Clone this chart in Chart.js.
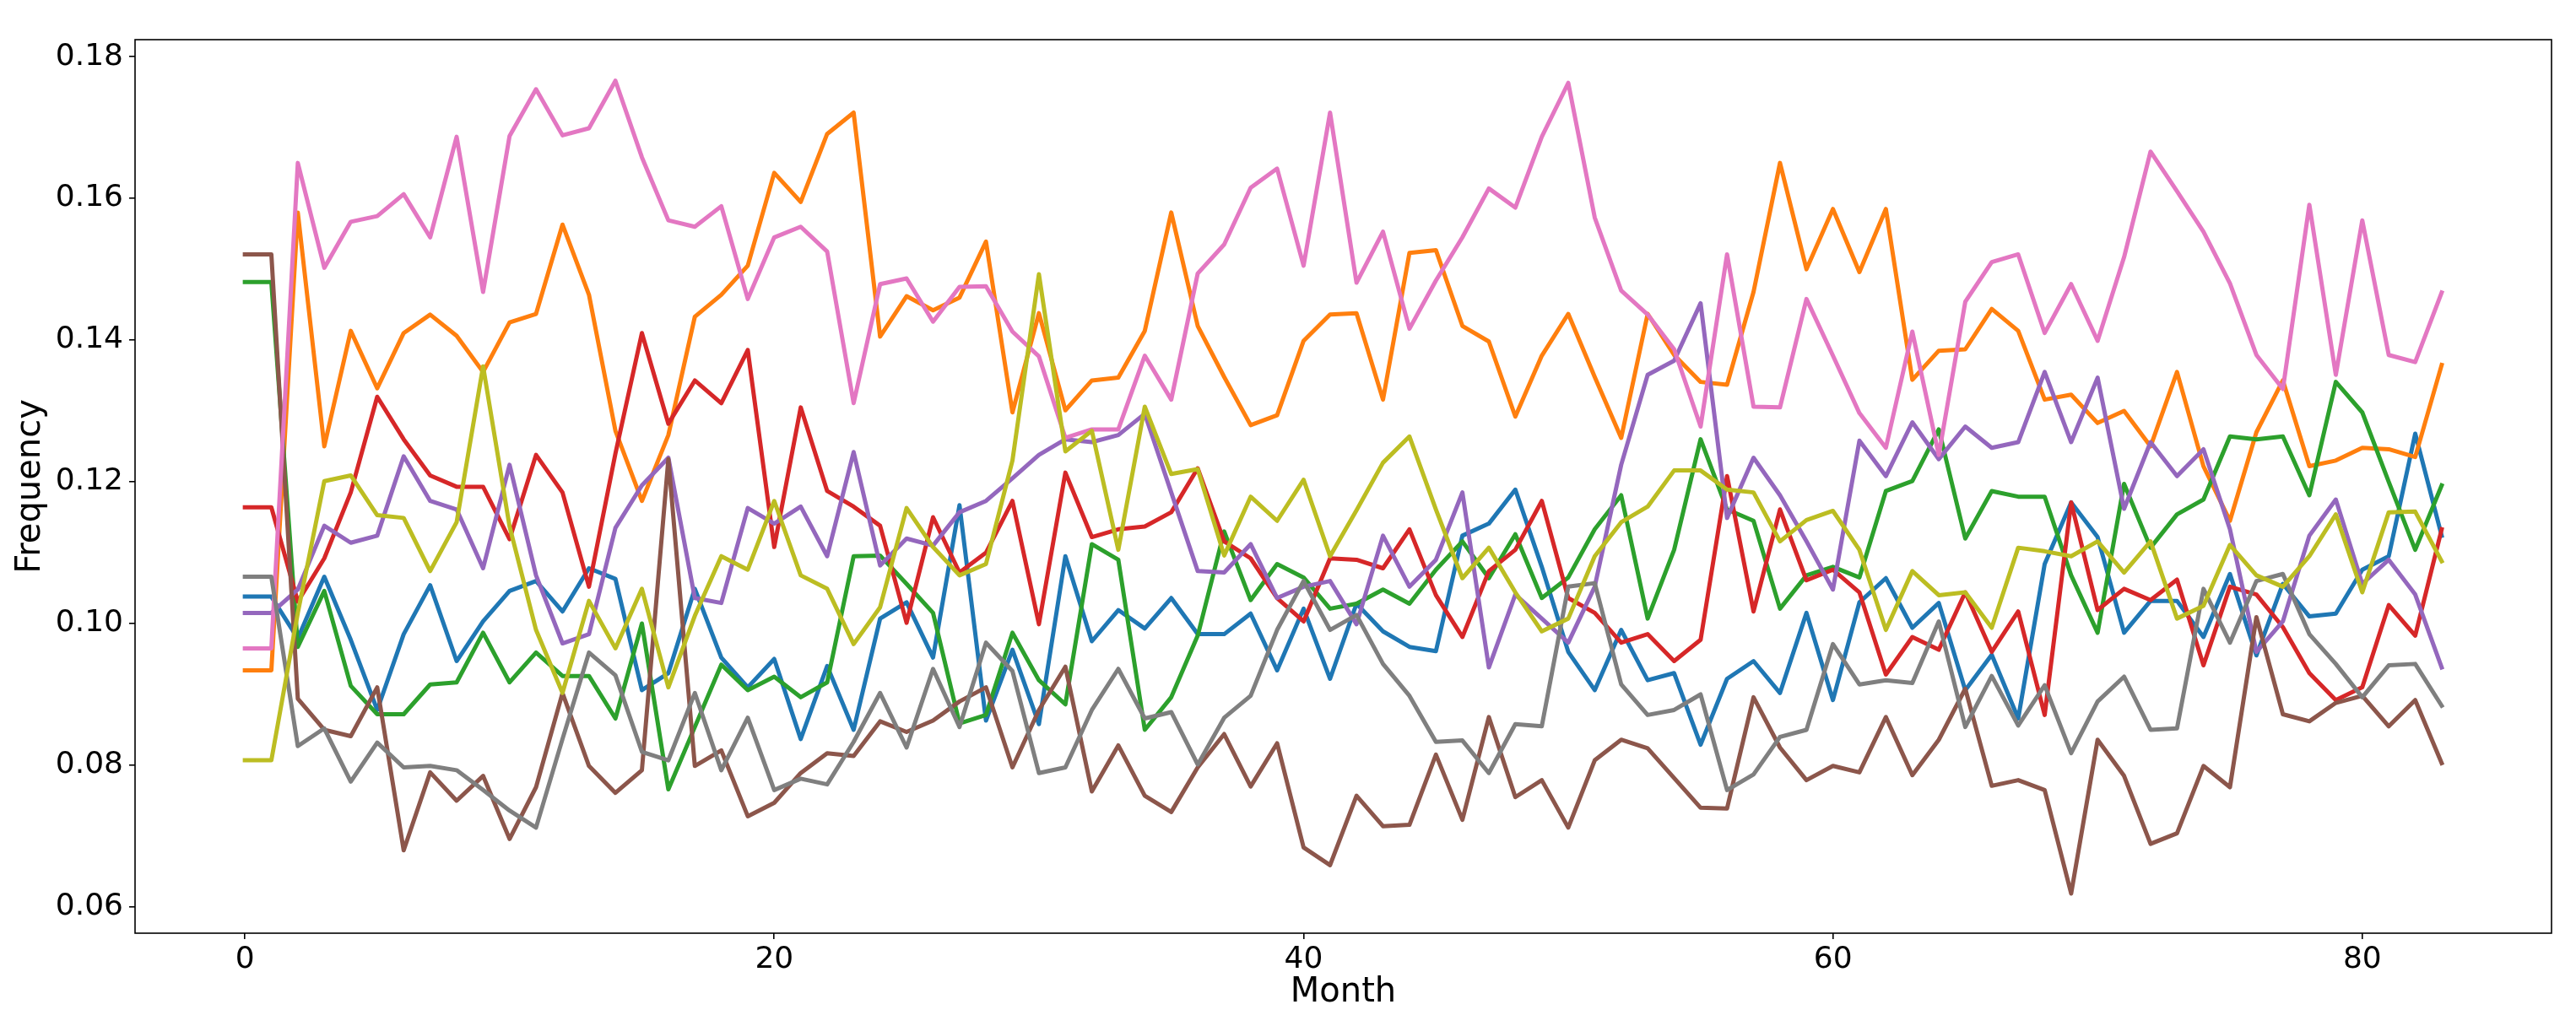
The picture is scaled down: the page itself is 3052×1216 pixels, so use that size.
<!DOCTYPE html>
<html>
<head>
<meta charset="utf-8">
<script src="https://cdn.jsdelivr.net/npm/chart.js@4.4.1/dist/chart.umd.min.js"></script>
<style>
html,body{margin:0;padding:0;background:#fff;}
#wrap{width:3052px;height:1216px;}
</style>
</head>
<body>
<div id="wrap"><canvas id="c" width="3052" height="1216"></canvas></div>
<script>
const months = Array.from({length: 84}, (_, i) => i);
const xTicks = [0, 20, 40, 60, 80];
const yTicks = [0.06, 0.08, 0.10, 0.12, 0.14, 0.16, 0.18];

const blue = [0.1038,0.1038,0.0979,0.1066,0.0977,0.0878,0.0985,0.1054,0.0947,0.1003,0.1046,0.1060,0.1017,0.1078,0.1063,
0.0906,0.0930,0.1049,0.0952,0.0910,0.0950,0.0837,0.0940,0.0850,0.1007,0.1030,0.0952,0.1167,0.0863,
0.0963,0.0858,0.1095,0.0975,0.1019,0.0993,0.1036,0.0985,0.0985,0.1014,0.0934,0.1021,0.0922,0.1028,
0.0989,0.0967,0.0961,0.1124,0.1141,0.1189,0.1080,0.0960,0.0906,0.0991,0.0920,0.0930,0.0829,0.0922,
0.0947,0.0902,0.1015,0.0892,0.1030,0.1064,0.0994,0.1029,0.0906,0.0956,0.0866,0.1084,0.1171,0.1122,
0.0987,0.1032,0.1032,0.0981,0.1070,0.0955,0.1056,0.1010,0.1014,0.1076,0.1095,0.1268,0.1124];

const orange = [0.0934,0.0934,0.1580,0.1250,0.1413,0.1332,0.1410,0.1436,0.1406,0.1355,0.1425,0.1437,0.1563,0.1464,0.1272,
0.1173,0.1266,0.1433,0.1464,0.1505,0.1636,0.1595,0.1691,0.1721,0.1405,0.1462,0.1442,0.1460,0.1539,
0.1298,0.1438,0.1301,0.1343,0.1347,0.1413,0.1580,0.1420,0.1348,0.1280,0.1294,0.1399,0.1436,0.1438,
0.1316,0.1523,0.1527,0.1420,0.1398,0.1292,0.1378,0.1437,0.1348,0.1262,0.1437,0.1379,0.1341,0.1337,
0.1468,0.1650,0.1500,0.1585,0.1496,0.1585,0.1344,0.1385,0.1387,0.1444,0.1413,0.1316,0.1323,0.1283,
0.1300,0.1250,0.1355,0.1222,0.1145,0.1270,0.1343,0.1222,0.1230,0.1248,0.1246,0.1235,0.1365];

const green = [0.1482,0.1482,0.0967,0.1046,0.0912,0.0872,0.0872,0.0914,0.0917,0.0987,0.0917,0.0959,0.0926,0.0926,0.0866,
0.1000,0.0766,0.0854,0.0942,0.0906,0.0925,0.0896,0.0917,0.1095,0.1096,0.1056,0.1015,0.0859,0.0871,
0.0987,0.0920,0.0886,0.1112,0.1090,0.0850,0.0896,0.0983,0.1130,0.1033,0.1084,0.1065,0.1021,0.1028,
0.1048,0.1028,0.1076,0.1116,0.1064,0.1126,0.1036,0.1065,0.1133,0.1181,0.1007,0.1104,0.1260,0.1161,
0.1145,0.1021,0.1068,0.1080,0.1065,0.1187,0.1201,0.1274,0.1120,0.1187,0.1179,0.1179,0.1068,0.0987,
0.1197,0.1107,0.1154,0.1175,0.1264,0.1260,0.1264,0.1181,0.1341,0.1298,0.1200,0.1104,0.1195];

const red = [0.1164,0.1164,0.1031,0.1092,0.1185,0.1320,0.1260,0.1209,0.1193,0.1193,0.1119,0.1238,0.1185,0.1052,0.1240,
0.1410,0.1282,0.1343,0.1311,0.1386,0.1108,0.1305,0.1187,0.1165,0.1138,0.1001,0.1150,0.1072,0.1100,
0.1173,0.0999,0.1213,0.1122,0.1133,0.1137,0.1157,0.1219,0.1116,0.1092,0.1036,0.1003,0.1092,0.1090,
0.1078,0.1133,0.1040,0.0981,0.1074,0.1104,0.1173,0.1036,0.1015,0.0973,0.0985,0.0947,0.0977,0.1208,
0.1017,0.1161,0.1061,0.1076,0.1044,0.0928,0.0981,0.0963,0.1044,0.0960,0.1017,0.0871,0.1171,0.1019,
0.1049,0.1033,0.1062,0.0941,0.1052,0.1041,0.0995,0.0930,0.0892,0.0910,0.1026,0.0983,0.1133];

const purple = [0.1015,0.1015,0.1048,0.1138,0.1114,0.1124,0.1236,0.1173,0.1161,0.1078,0.1224,0.1068,0.0972,0.0985,0.1135,
0.1195,0.1234,0.1036,0.1029,0.1163,0.1141,0.1165,0.1095,0.1242,0.1082,0.1120,0.1110,0.1157,0.1173,
0.1205,0.1238,0.1260,0.1256,0.1266,0.1296,0.1185,0.1074,0.1072,0.1112,0.1036,0.1052,0.1060,0.0999,
0.1124,0.1052,0.1090,0.1185,0.0938,0.1041,0.1007,0.0973,0.1052,0.1224,0.1351,0.1371,0.1452,0.1149,
0.1234,0.1181,0.1116,0.1048,0.1258,0.1208,0.1284,0.1232,0.1278,0.1248,0.1256,0.1355,0.1256,0.1347,
0.1162,0.1256,0.1208,0.1246,0.1133,0.0960,0.1003,0.1124,0.1175,0.1056,0.1090,0.1041,0.0938];

const brown = [0.1521,0.1521,0.0894,0.0850,0.0841,0.0910,0.0680,0.0790,0.0750,0.0785,0.0696,0.0769,0.0902,0.0799,0.0761,
0.0793,0.1232,0.0799,0.0821,0.0728,0.0747,0.0789,0.0817,0.0813,0.0862,0.0847,0.0863,0.0890,0.0910,
0.0797,0.0878,0.0939,0.0763,0.0828,0.0757,0.0734,0.0797,0.0844,0.0770,0.0831,0.0684,0.0659,0.0757,
0.0714,0.0716,0.0815,0.0723,0.0868,0.0755,0.0779,0.0712,0.0807,0.0836,0.0824,0.0782,0.0740,0.0739,
0.0896,0.0825,0.0779,0.0799,0.0790,0.0868,0.0786,0.0836,0.0908,0.0771,0.0779,0.0765,0.0619,0.0836,
0.0785,0.0689,0.0704,0.0799,0.0769,0.1009,0.0872,0.0862,0.0888,0.0898,0.0855,0.0892,0.0803];

const pink = [0.0965,0.0965,0.1650,0.1502,0.1567,0.1575,0.1606,0.1545,0.1687,0.1468,0.1688,0.1754,0.1689,0.1699,0.1766,
0.1658,0.1569,0.1560,0.1589,0.1458,0.1545,0.1560,0.1525,0.1311,0.1479,0.1487,0.1426,0.1475,0.1476,
0.1412,0.1377,0.1262,0.1274,0.1274,0.1378,0.1316,0.1494,0.1535,0.1615,0.1642,0.1505,0.1721,0.1481,
0.1553,0.1416,0.1484,0.1545,0.1614,0.1587,0.1687,0.1763,0.1573,0.1470,0.1436,0.1387,0.1278,0.1521,
0.1306,0.1305,0.1458,0.1378,0.1297,0.1248,0.1412,0.1238,0.1454,0.1510,0.1521,0.1410,0.1479,0.1399,
0.1517,0.1666,0.1610,0.1553,0.1480,0.1379,0.1331,0.1591,0.1351,0.1569,0.1379,0.1369,0.1467];

const gray = [0.1066,0.1066,0.0827,0.0852,0.0777,0.0832,0.0797,0.0799,0.0793,0.0765,0.0736,0.0712,0.0837,0.0959,0.0927,
0.0819,0.0807,0.0902,0.0793,0.0867,0.0765,0.0781,0.0773,0.0833,0.0902,0.0825,0.0936,0.0854,0.0973,
0.0933,0.0789,0.0797,0.0878,0.0936,0.0866,0.0875,0.0801,0.0867,0.0898,0.0991,0.1060,0.0991,0.1012,
0.0943,0.0898,0.0833,0.0835,0.0789,0.0858,0.0855,0.1052,0.1057,0.0914,0.0871,0.0878,0.0900,0.0765,
0.0787,0.0840,0.0850,0.0971,0.0914,0.0920,0.0916,0.1003,0.0854,0.0926,0.0856,0.0913,0.0817,0.0890,
0.0925,0.0850,0.0852,0.1049,0.0973,0.1060,0.1070,0.0985,0.0943,0.0896,0.0941,0.0943,0.0884];

const olive = [0.0807,0.0807,0.1015,0.1201,0.1209,0.1153,0.1149,0.1074,0.1143,0.1363,0.1137,0.0991,0.0902,0.1032,0.0965,
0.1049,0.0910,0.1011,0.1095,0.1076,0.1173,0.1068,0.1049,0.0971,0.1023,0.1163,0.1108,0.1068,0.1084,
0.1230,0.1493,0.1243,0.1272,0.1104,0.1306,0.1211,0.1218,0.1096,0.1179,0.1145,0.1203,0.1095,0.1160,
0.1227,0.1264,0.1161,0.1064,0.1107,0.1044,0.0989,0.1007,0.1095,0.1143,0.1165,0.1216,0.1216,0.1189,
0.1185,0.1116,0.1146,0.1159,0.1104,0.0991,0.1074,0.1040,0.1044,0.0994,0.1107,0.1102,0.1095,0.1116,
0.1072,0.1116,0.1007,0.1025,0.1111,0.1068,0.1052,0.1095,0.1154,0.1044,0.1157,0.1158,0.1088];

const seriesList = [blue, orange, green, red, purple, brown, pink, gray, olive];
const colors = ['#1f77b4','#ff7f0e','#2ca02c','#d62728','#9467bd','#8c564b','#e377c2','#7f7f7f','#bcbd22'];

const datasets = seriesList.map((vals, i) => ({
  data: vals.map((v, j) => ({x: months[j], y: v})),
  borderColor: colors[i],
  backgroundColor: colors[i],
  borderWidth: 5,
  pointRadius: 0,
  tension: 0,
  fill: false,
  order: seriesList.length - 1 - i,
  borderCapStyle: 'square',
  borderJoinStyle: 'round'
}));

const frame = {
  id: 'frame',
  afterDraw(chart) {
    const {ctx, chartArea: a} = chart;
    ctx.save();
    ctx.strokeStyle = '#000';
    ctx.lineWidth = 1.6;
    ctx.strokeRect(a.left, a.top, a.right - a.left, a.bottom - a.top);
    ctx.restore();
  }
};

const tickFont = {family: 'DejaVu Sans', size: 36};
const titleFont = {family: 'DejaVu Sans', size: 40};

new Chart(document.getElementById('c'), {
  type: 'line',
  data: {datasets},
  options: {
    responsive: false,
    devicePixelRatio: 1,
    animation: false,
    layout: {padding: {left: 0, right: 29, top: 47, bottom: 0}},
    plugins: {legend: {display: false}, tooltip: {enabled: false}},
    scales: {
      x: {
        type: 'linear',
        min: -4.15,
        max: 87.15,
        afterBuildTicks: s => { s.ticks = xTicks.map(v => ({value: v})); },
        afterFit: s => { s.height = 110; },
        grid: {drawOnChartArea: false, drawTicks: true, tickLength: 7, color: '#000', lineWidth: 1.6},
        border: {display: false},
        ticks: {font: tickFont, color: '#000', padding: 3, maxRotation: 0, callback: v => String(v)},
        title: {display: true, text: 'Month', font: titleFont, color: '#000', padding: {top: 0, bottom: 15}}
      },
      y: {
        type: 'linear',
        min: 0.0563,
        max: 0.1824,
        afterBuildTicks: s => { s.ticks = yTicks.map(v => ({value: v})); },
        afterFit: s => { s.width = 160; },
        grid: {drawOnChartArea: false, drawTicks: true, tickLength: 7, color: '#000', lineWidth: 1.6},
        border: {display: false},
        ticks: {font: tickFont, color: '#000', padding: 7, callback: v => v.toFixed(2)},
        title: {display: true, text: 'Frequency', font: titleFont, color: '#000', padding: {top: 13, bottom: 0}}
      }
    }
  },
  plugins: [frame]
});
</script>
</body>
</html>
